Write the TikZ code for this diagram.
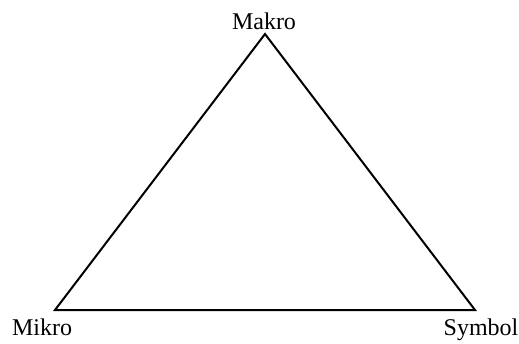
\documentclass[tikz,border=0pt]{standalone}
\usepackage{fontspec}
\setmainfont{Liberation Serif}
\begin{document}
\begin{tikzpicture}[x=0.5pt,y=-0.5pt,
  lbl/.style={anchor=base,inner sep=0pt,font=\fontsize{12}{14}\selectfont},
  edge/.style={line width=1pt,line join=miter}]
\useasboundingbox (0,0) rectangle (519,343);
\coordinate (top) at (265,34);
\coordinate (bl) at (55,310);
\coordinate (br) at (475,310);
\draw[edge] (top) -- (bl) -- (br) -- cycle;
\node[lbl] (makro) at (264,29) {Makro};
\node[lbl] (mikro) at (42,335) {Mikro};
\node[lbl] (symbol) at (481,335) {Symbol};
\end{tikzpicture}
\end{document}
